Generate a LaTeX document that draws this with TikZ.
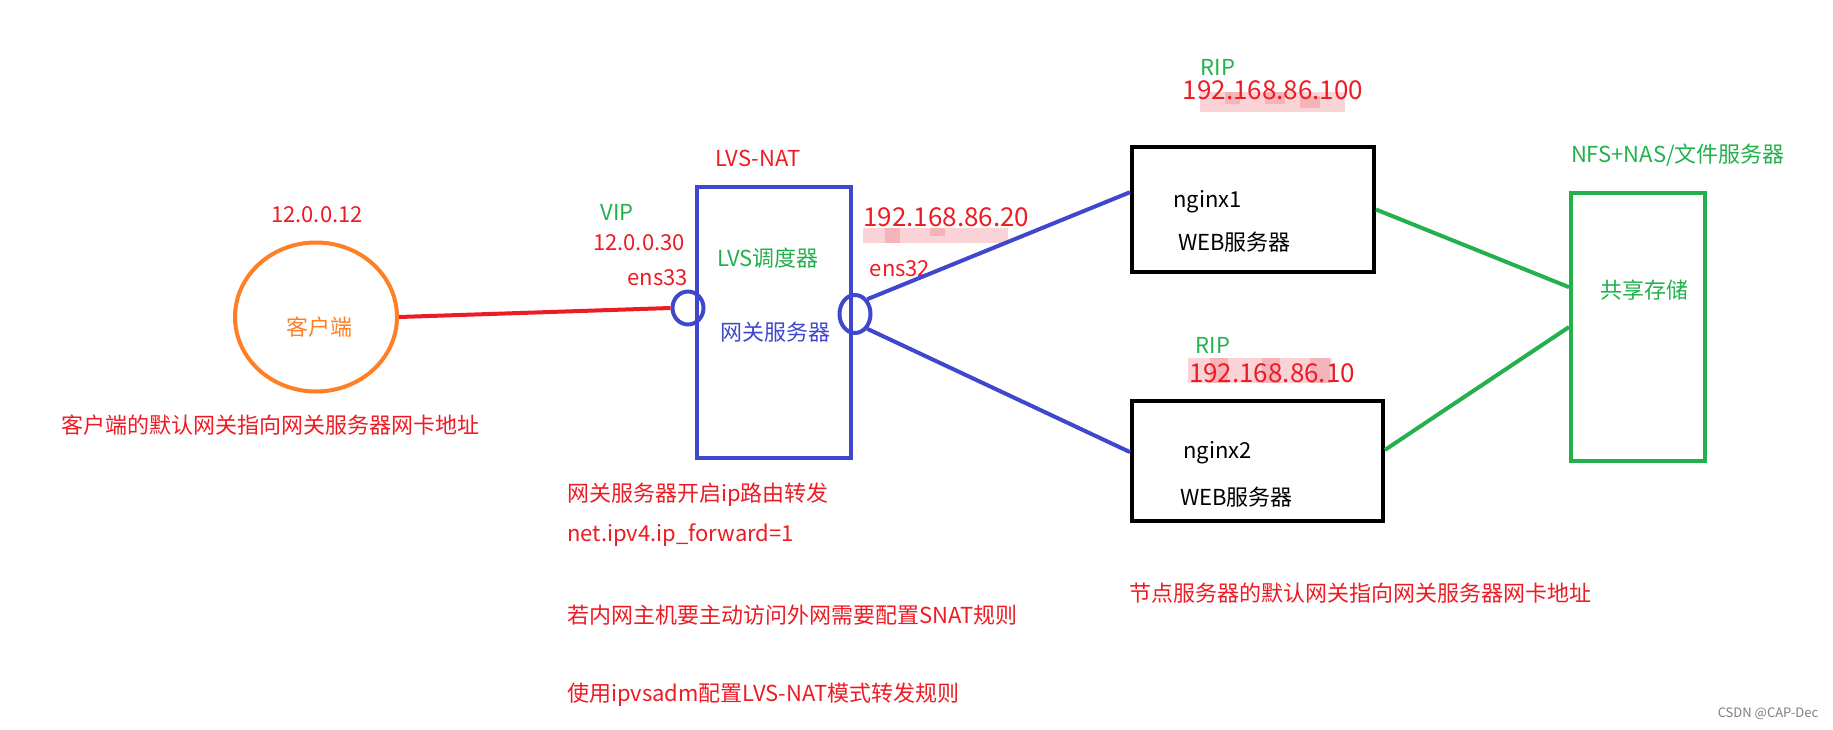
\documentclass[tikz,border=0pt]{standalone}
\usepackage{fontspec}
\setmainfont{Noto Sans CJK SC}
\usetikzlibrary{shapes.geometric}
\definecolor{pred}{HTML}{ED1C24}
\definecolor{pgreen}{HTML}{22B14C}
\definecolor{pblue}{HTML}{3F48CC}
\definecolor{porange}{HTML}{FF7F27}
\definecolor{pink1}{HTML}{F9D3D6}
\definecolor{pink2}{HTML}{F4B4B9}
\begin{document}
\begin{tikzpicture}[x=1pt,y=-1pt,
  txt/.style={inner sep=0pt, font=\fontsize{22}{26}\selectfont},
  ip/.style={inner sep=0pt, font=\fontsize{26}{30}\selectfont, text=pred},
  redt/.style={txt, text=pred},
  greent/.style={txt, text=pgreen},
  bluet/.style={txt, text=pblue},
  blackt/.style={txt, text=black},
  nic/.style={draw=pblue, line width=4pt, ellipse, inner sep=0pt},
  server/.style={draw=black, line width=4pt, rectangle, inner sep=0pt},
  blueline/.style={draw=pblue, line width=4pt},
  greenline/.style={draw=pgreen, line width=4pt},
]
\useasboundingbox (0,0) rectangle (1833,729);
\fill[white] (0,0) rectangle (1833,729);

% mosaic blurs
\fill[pink1] (863,228) rectangle (1008,243);
\fill[pink2] (885,228) rectangle (900,243);
\fill[pink2] (930,228) rectangle (945,236);
\fill[pink1] (1200,92) rectangle (1345,112);
\fill[pink2] (1225,92) rectangle (1240,104);
\fill[pink2] (1265,92) rectangle (1285,104);
\fill[pink2] (1300,96) rectangle (1320,108);
\fill[pink1] (1188,358) rectangle (1332,383);
\fill[pink2] (1210,358) rectangle (1228,383);
\fill[pink2] (1262,358) rectangle (1280,383);
\fill[pink2] (1310,358) rectangle (1330,383);

% client
\node[draw=porange, line width=4pt, ellipse, inner sep=0pt,
      minimum width=162pt, minimum height=149pt] (client) at (316,317) {};
\node[txt, text=porange] (clientt) at (319,327) {客户端};
\node[redt] (clientip) at (317,215) {12.0.0.12};
\node[redt, anchor=west] (clientcap) at (61,425) {客户端的默认网关指向网关服务器网卡地址};

% LVS box
\node[draw=pblue, line width=4pt, rectangle, inner sep=0pt,
      minimum width=154pt, minimum height=271pt] (lvs) at (774,322.5) {};
\node[nic, minimum width=31pt, minimum height=33pt] (nic33) at (688,308) {};
\node[nic, minimum width=31pt, minimum height=38pt] (nic32) at (855,314) {};
\node[redt] (lvsnat) at (758,158) {LVS-NAT};
\node[greent] (vip) at (617,212) {VIP};
\node[redt, anchor=east] (vipip) at (685,243) {12.0.0.30};
\node[redt, anchor=east] (ens33) at (688,278) {ens33};
\node[greent] (sched) at (768,258) {LVS调度器};
\node[bluet] (gw) at (775,332) {网关服务器};
\node[ip, anchor=west] (dip) at (863,217) {192.168.86.20};
\node[redt] (ens32) at (900,269) {ens32};

% real servers
\node[server, minimum width=242pt, minimum height=125pt] (nginx1) at (1253,209.5) {};
\node[greent] (rip1) at (1218,67) {RIP};
\node[ip] (rip1ip) at (1273,90) {192.168.86.100};
\node[blackt, anchor=west] (n1) at (1173,202) {nginx1};
\node[blackt, anchor=west] (w1) at (1178,242) {WEB服务器};

\node[server, minimum width=251pt, minimum height=120pt] (nginx2) at (1257.5,461) {};
\node[greent] (rip2) at (1213,345) {RIP};
\node[ip] (rip2ip) at (1272,373) {192.168.86.10};
\node[blackt, anchor=west] (n2) at (1183,453) {nginx2};
\node[blackt, anchor=west] (w2) at (1180,497) {WEB服务器};

% storage
\node[draw=pgreen, line width=4pt, rectangle, inner sep=0pt,
      minimum width=134pt, minimum height=268pt] (nfs) at (1638,327) {};
\node[greent] (nfst) at (1678,155) {NFS+NAS/文件服务器};
\node[greent] (share) at (1644,290) {共享存储};

% connectors
\draw[draw=pred, line width=4pt] (client.east) -- (nic33.west);
\draw[blueline] (nic32.north east) -- (nginx1.172);
\draw[blueline] (nic32.south east) -- (nginx2.176);
\draw[greenline] (nginx1.east) -- (nfs.150);
\draw[greenline] (nginx2.5) -- (nfs.west);

% notes
\node[redt, anchor=west] (note1) at (567,495) {网关服务器开启ip路由转发};
\node[redt, anchor=west] (note2) at (567,535) {net.ipv4.ip\_forward=1};
\node[redt, anchor=west] (note3) at (567,615) {若内网主机要主动访问外网需要配置SNAT规则};
\node[redt, anchor=west] (note4) at (567,695) {使用ipvsadm配置LVS-NAT模式转发规则};
\node[redt, anchor=west] (note5) at (1129,593) {节点服务器的默认网关指向网关服务器网卡地址};
\node[inner sep=0pt, text=gray, font=\fontsize{13}{15}\selectfont] (wm) at (1768,714) {CSDN @CAP-Dec};
\end{tikzpicture}
\end{document}
